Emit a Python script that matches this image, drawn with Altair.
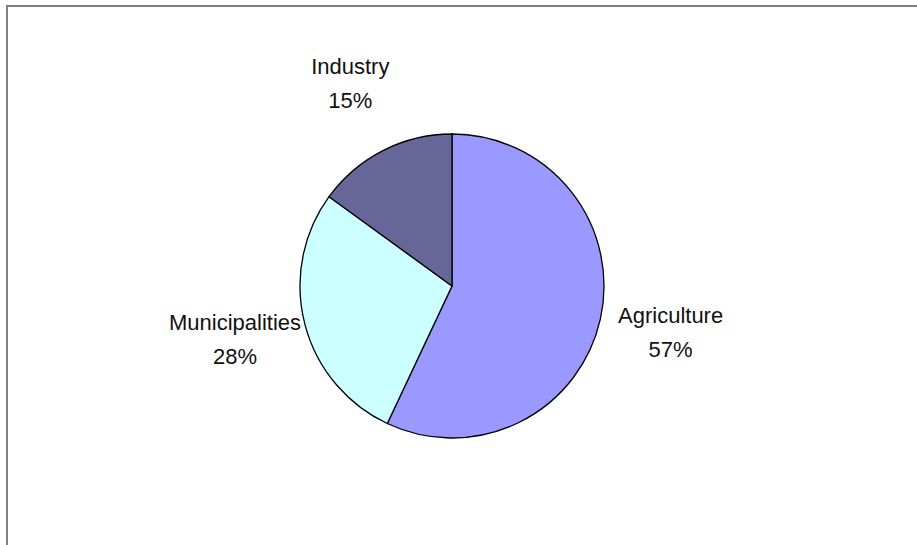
import altair as alt
import pandas as pd

categories = ["Agriculture", "Municipalities", "Industry"]
shares = [57, 28, 15]
colors = ["#9999FF", "#CCFFFF", "#666699"]

df = pd.DataFrame({
    "category": categories,
    "share": shares,
    "idx": list(range(len(categories))),
})
df["label"] = df["category"] + "\n" + df["share"].astype(str) + "%"

cx, cy = 452, 286

base = alt.Chart(df).encode(
    theta=alt.Theta("share:Q", stack=True),
    order=alt.Order("idx:Q"),
)

pie = base.mark_arc(radius=152, stroke="black", strokeWidth=1.3).encode(
    color=alt.Color("category:N", scale=alt.Scale(domain=categories, range=colors), legend=None),
    x=alt.value(cx),
    y=alt.value(cy),
)

labels = base.mark_text(
    radius=224,
    dy=-19,
    font="Liberation Sans",
    fontSize=22,
    lineHeight=34,
    align="center",
    baseline="middle",
    color="#111111",
    lineBreak="\n",
).encode(
    text="label:N",
    x=alt.value(cx),
    y=alt.value(cy),
)

border_df = pd.DataFrame({"k": [0]})
left_line = alt.Chart(border_df).mark_rule(color="#808080", strokeWidth=2).encode(
    x=alt.value(7), y=alt.value(5), y2=alt.value(545)
)
top_line = alt.Chart(border_df).mark_rule(color="#808080", strokeWidth=2).encode(
    x=alt.value(6), x2=alt.value(917), y=alt.value(6)
)

chart = alt.layer(pie, labels, left_line, top_line).properties(
    width=917, height=545, padding=0, autosize=alt.AutoSizeParams(type="none"),
    background="white",
).configure_view(stroke=None)

chart.save("out.html", embed_options={"renderer": "svg", "actions": False})
